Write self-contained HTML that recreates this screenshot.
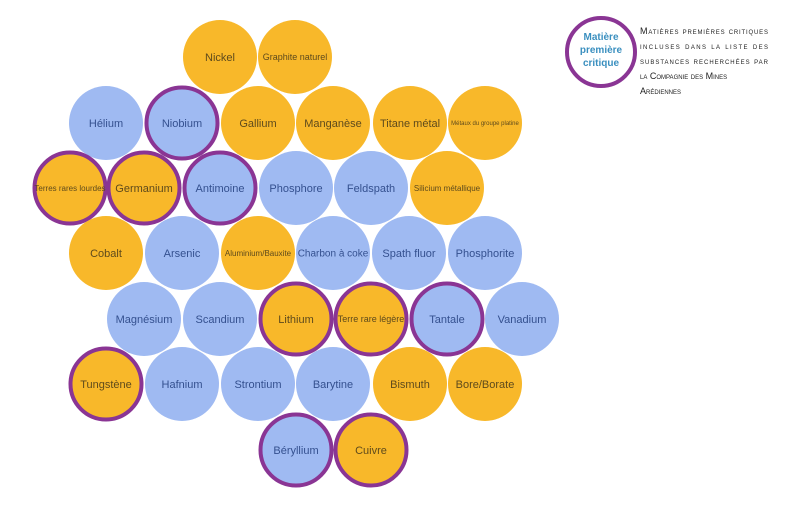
<!DOCTYPE html>
<html><head><meta charset="utf-8"><style>
html,body{margin:0;padding:0;background:#fff;}
svg text{font-family:"Liberation Sans",sans-serif;}
</style></head><body>
<svg width="800" height="512" viewBox="0 0 800 512" xmlns="http://www.w3.org/2000/svg">
<g id="c"></g>
<circle cx="601" cy="52" r="34" fill="#fff" stroke="#8a3594" stroke-width="4"/>
<text x="601" y="40" text-anchor="middle" font-size="10" font-weight="bold" fill="#3a8fbf">Matière</text>
<text x="601" y="53" text-anchor="middle" font-size="10" font-weight="bold" fill="#3a8fbf">première</text>
<text x="601" y="66" text-anchor="middle" font-size="10" font-weight="bold" fill="#3a8fbf">critique</text>
<g font-size="9" fill="#222" style="font-variant:small-caps">
<text x="640" y="34" textLength="128" lengthAdjust="spacing">Matières premières critiques</text>
<text x="640" y="49" textLength="128" lengthAdjust="spacing">incluses dans la liste des</text>
<text x="640" y="64" textLength="128" lengthAdjust="spacing">substances recherchées par</text>
<text x="640" y="79">la Compagnie des Mines</text>
<text x="640" y="94">Arédiennes</text>
</g>
</svg>
<script>
var O="#f8b82a",B="#9fbaf2",P="#8a3594";
var d=[
[220,57,"Nickel",O,0,11],[295,57,"Graphite naturel",O,0,9],
[106,123,"Hélium",B,0,11],[182,123,"Niobium",B,1,11],[258,123,"Gallium",O,0,11],[333,123,"Manganèse",O,0,11],[410,123,"Titane métal",O,0,11],[485,123,"Métaux du groupe platine",O,0,6],
[70,188,"Terres rares lourdes",O,1,8],[144,188,"Germanium",O,1,11],[220,188,"Antimoine",B,1,11],[296,188,"Phosphore",B,0,11],[371,188,"Feldspath",B,0,11],[447,188,"Silicium métallique",O,0,8],
[106,253,"Cobalt",O,0,11],[182,253,"Arsenic",B,0,11],[258,253,"Aluminium/Bauxite",O,0,8],[333,253,"Charbon à coke",B,0,10],[409,253,"Spath fluor",B,0,11],[485,253,"Phosphorite",B,0,11],
[144,319,"Magnésium",B,0,11],[220,319,"Scandium",B,0,11],[296,319,"Lithium",O,1,11],[371,319,"Terre rare légère",O,1,9],[447,319,"Tantale",B,1,11],[522,319,"Vanadium",B,0,11],
[106,384,"Tungstène",O,1,11],[182,384,"Hafnium",B,0,11],[258,384,"Strontium",B,0,11],[333,384,"Barytine",B,0,11],[410,384,"Bismuth",O,0,11],[485,384,"Bore/Borate",O,0,11],
[296,450,"Béryllium",B,1,11],[371,450,"Cuivre",O,1,11]];
var s="";
d.forEach(function(e){
 s+='<circle cx="'+e[0]+'" cy="'+e[1]+'" r="'+(e[4]?35.5:37)+'" fill="'+e[3]+'"'+(e[4]?' stroke="'+P+'" stroke-width="4"':'')+'/>';
 s+='<text x="'+e[0]+'" y="'+(e[1]+e[5]*0.35)+'" text-anchor="middle" font-size="'+e[5]+'" fill="'+(e[3]==O?"#5e4a1c":"#34508f")+'">'+e[2]+'</text>';
});
document.getElementById("c").innerHTML=s;
</script>
</body></html>
